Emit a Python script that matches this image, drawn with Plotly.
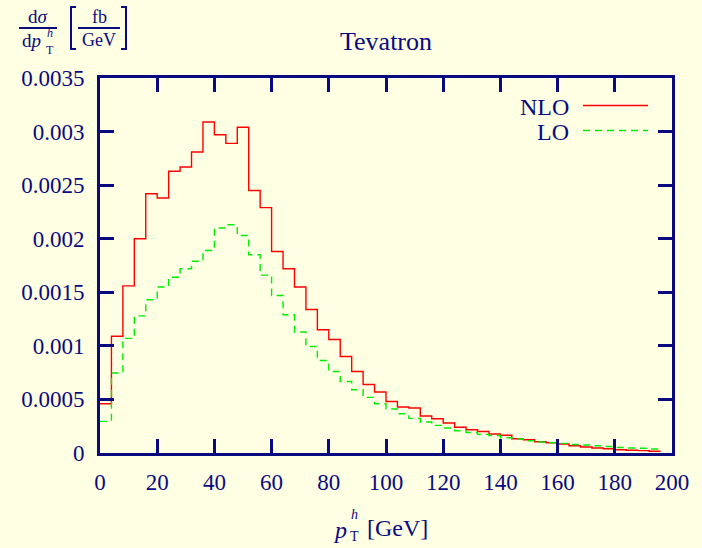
import plotly.graph_objects as go

# Transverse momentum spectrum of the Higgs boson at the Tevatron, 4 GeV bins
BIN_WIDTH = 4
bin_low = list(range(0, 196, BIN_WIDTH))

nlo = [0.00046, 0.00109, 0.00156, 0.00200, 0.00242, 0.00238, 0.00263, 0.00267,
       0.00281, 0.00309, 0.00297, 0.00289, 0.00304, 0.00245, 0.00229, 0.00188,
       0.00172, 0.00155, 0.00134, 0.00115, 0.00106, 0.00090, 0.00076, 0.00064,
       0.00057, 0.00048, 0.00043, 0.00042, 0.000345, 0.00032, 0.00028, 0.00024,
       0.000217, 0.00020, 0.000177, 0.000166, 0.000133, 0.000124, 0.000105,
       0.000096, 0.000084, 0.000068, 0.000056, 0.000047, 0.000040, 0.000031,
       0.000025, 0.000022, 0.000016]

lo = [0.000295, 0.000746, 0.00107, 0.00128, 0.00143, 0.00155, 0.00164, 0.00172,
      0.00179, 0.00189, 0.00210, 0.00213, 0.00203, 0.00185, 0.00166, 0.00147,
      0.00129, 0.00113, 0.000994, 0.000864, 0.000761, 0.000668, 0.00059,
      0.000519, 0.00046, 0.00041, 0.000367, 0.000323, 0.000289, 0.000258,
      0.000233, 0.000208, 0.000192, 0.000174, 0.000164, 0.000143, 0.00013,
      0.000115, 0.000103, 0.000096, 0.00009, 0.00008, 0.000075, 0.000068,
      0.00006, 0.000052, 0.000047, 0.000044, 0.000037]

x_ticks = [0, 20, 40, 60, 80, 100, 120, 140, 160, 180, 200]
y_ticks = [0, 0.0005, 0.001, 0.0015, 0.002, 0.0025, 0.003, 0.0035]
y_tick_text = ["0", "0.0005", "0.001", "0.0015", "0.002", "0.0025", "0.003", "0.0035"]

NAVY = "#0a0a80"
BG = "#ffffe4"
FONT = "Liberation Serif"
W, H = 702, 548
L, R, T, B = 100, 30, 78, 95


def step_xy(values):
    xs = bin_low[:len(values)] + [bin_low[len(values) - 1] + BIN_WIDTH]
    ys = list(values) + [values[-1]]
    return xs, ys


def px(x):
    return (x - L) / (W - L - R)


def py(y):
    return (H - B - y) / (H - T - B)


fig = go.Figure()
xs, ys = step_xy(nlo)
fig.add_trace(go.Scatter(x=xs, y=ys, mode="lines", line_shape="hv",
                         line=dict(color="#ff0000", width=1.4), name="NLO"))
xs, ys = step_xy(lo)
fig.add_trace(go.Scatter(x=xs, y=ys, mode="lines", line_shape="hv",
                         line=dict(color="#00ee00", width=1.4, dash="7px,5px"), name="LO"))

axis_common = dict(showline=True, linecolor=NAVY, linewidth=3, mirror="ticks",
                   ticks="inside", ticklen=14, tickwidth=2.5, tickcolor=NAVY,
                   showgrid=False, zeroline=False,
                   tickfont=dict(family=FONT, size=23, color=NAVY))

fig.update_xaxes(range=[0, 200], tickvals=x_ticks, ticklabelstandoff=6, **axis_common)
fig.update_yaxes(range=[0, 0.0035], tickvals=y_ticks, ticktext=y_tick_text,
                 ticklabelstandoff=8, **axis_common)

ann = []
shapes = []


def text(x, y, s, size=23, anchor="center"):
    ann.append(dict(x=px(x), y=py(y), xref="paper", yref="paper", text=s,
                    showarrow=False, xanchor=anchor, yanchor="middle",
                    borderpad=0, borderwidth=0,
                    font=dict(family=FONT, size=size, color=NAVY)))


def seg(x0, y0, x1, y1, color=NAVY, width=2, dash=None):
    shapes.append(dict(type="line", xref="paper", yref="paper",
                       x0=px(x0), y0=py(y0), x1=px(x1), y1=py(y1),
                       line=dict(color=color, width=width, dash=dash)))


# Title
text(386, 42, "Tevatron", size=26)

# Legend
text(569, 107, "NLO", size=24, anchor="right")
text(569, 132, "LO", size=24, anchor="right")
seg(583, 105.5, 648, 105.5, color="#ff0000", width=1.4)
seg(583, 130.5, 648, 130.5, color="#00ee00", width=1.4, dash="7px,5px")

# y-axis label: dσ/dp_T^h [fb/GeV]
text(38, 16.5, "d<i>σ</i>", size=19)
seg(19, 28, 57, 28, width=2)
text(31, 41, "d<i>p</i>", size=19)
text(50, 33, "<i>h</i>", size=12)
text(50, 50, "T", size=12)
seg(71, 7, 71, 49, width=2)
seg(70, 7, 76, 7, width=2)
seg(70, 49, 76, 49, width=2)
text(99, 16.5, "fb", size=18)
seg(78, 28, 120, 28, width=2)
text(99, 40.5, "GeV", size=18)
seg(126, 7, 126, 49, width=2)
seg(121, 7, 127, 7, width=2)
seg(121, 49, 127, 49, width=2)

# x-axis label: p_T^h [GeV]
text(340, 530, "<i>p</i>", size=24)
text(354, 514, "<i>h</i>", size=14)
text(354, 536, "T", size=14)
text(397, 528, "[GeV]", size=24)

fig.update_layout(width=W, height=H, margin=dict(l=L, r=R, t=T, b=B),
                  paper_bgcolor=BG, plot_bgcolor=BG, showlegend=False,
                  annotations=ann, shapes=shapes)

fig.write_html("out.html")
